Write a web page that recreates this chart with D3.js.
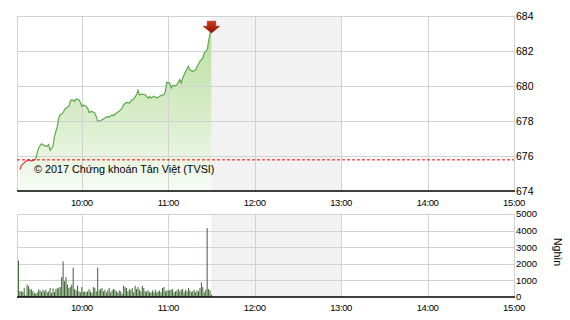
<!DOCTYPE html>
<html lang="vi">
<head>
<meta charset="UTF-8">
<title>VN-Index</title>
<script src="https://d3js.org/d3.v7.min.js"></script>
<style>
  body { margin: 0; background: #fff; }
  svg { display: block; font-family: "Liberation Sans", Arial, sans-serif; }
  .grid { stroke: #d2d2d2; stroke-width: 1; shape-rendering: crispEdges; }
  .tick-text { font-size: 10px; fill: #000; }
  .time-text { font-size: 9.5px; fill: #000; letter-spacing: -0.4px; }
</style>
</head>
<body>
<svg width="570" height="320"></svg>
<script>
// price line (intraday index)
var priceTimes = ["9:17","9:18","9:21","9:23","9:25","9:28","9:29","9:30","9:32","9:34","9:36","9:37","9:38","9:40","9:41","9:42","9:43","9:44","9:45","9:47","9:48","9:49","9:51","9:52","9:53","9:54","9:55","9:56","9:58","9:59","10:00","10:01","10:03","10:04","10:05","10:07","10:09","10:10","10:11","10:13","10:15","10:16","10:18","10:19","10:21","10:22","10:24","10:26","10:28","10:29","10:31","10:33","10:35","10:36","10:38","10:39","10:40","10:42","10:44","10:46","10:47","10:48","10:50","10:52","10:54","10:55","10:57","10:58","10:59","11:01","11:02","11:03","11:05","11:06","11:08","11:09","11:10","11:11","11:12","11:14","11:15","11:17","11:19","11:20","11:22","11:24","11:25","11:27","11:28","11:29","11:30"];
var priceValues = [675.22,675.45,675.69,675.79,675.71,675.83,676.17,676.46,676.70,676.59,676.55,676.65,676.32,676.55,677.12,677.41,677.69,678.17,678.36,678.46,678.65,678.74,678.83,679.12,679.22,679.18,679.12,679.26,679.22,679.06,678.83,678.91,678.83,678.74,678.49,678.55,678.46,678.26,677.98,678.03,678.11,678.17,678.26,678.21,678.36,678.30,678.46,678.55,678.74,678.93,679.06,679.03,679.22,679.26,679.50,679.75,679.50,679.54,679.50,679.31,679.41,679.31,679.41,679.31,679.41,679.45,679.50,679.69,680.21,680.17,679.88,680.02,680.02,680.07,680.36,680.17,680.45,680.64,680.83,681.12,680.93,680.83,680.93,681.12,681.41,681.60,681.88,682.07,682.55,683.03,683.12];
var refValue = 675.78;

// volume, one bar per minute from 9:16
var volStart = "9:16";
var volValues = [2200,350,350,300,550,100,750,650,480,450,350,250,200,280,450,400,300,440,340,440,280,340,540,240,520,300,480,520,560,600,1200,2150,950,1200,750,540,600,750,1770,480,400,680,340,280,600,300,340,280,340,480,340,250,600,540,340,1770,400,480,540,340,440,280,400,540,280,400,480,440,340,280,400,340,200,680,600,540,340,480,400,540,280,680,480,600,440,340,680,540,340,340,400,280,280,400,280,440,280,340,400,280,540,600,340,400,400,400,440,480,280,340,400,480,340,440,480,280,440,340,540,400,300,340,440,280,400,340,540,885,600,280,440,4150,480,400,140];

var priceTicks = [674,676,678,680,682,684];
var volTicks = [0,1000,2000,3000,4000,5000];
var timeTicks = ["10:00","11:00","12:00","13:00","14:00","15:00"];
var session = {start: "9:15", end: "15:00", breakStart: "11:30", breakEnd: "13:00"};
var copyright = "\u00a9 2017 Ch\u1ee9ng kho\u00e1n T\u00e2n Vi\u1ec7t (TVSI)";
var volUnit = "Ngh\u00ecn";

var parse = d3.timeParse("%H:%M");
var svg = d3.select("svg");
var left = 17, right = 514;

var x = d3.scaleTime().domain([parse(session.start), parse(session.end)]).range([left, right]);
var y = d3.scaleLinear().domain([674, 684]).range([191, 16]);
var yv = d3.scaleLinear().domain([0, 5000]).range([297, 214]);

var priceData = d3.zip(priceTimes, priceValues).map(function(d) { return {t: parse(d[0]), v: d[1]}; });
var t0 = parse(volStart);
var volData = volValues.map(function(v, i) { return {t: d3.timeMinute.offset(t0, i), v: v}; });

var defs = svg.append("defs");
var ag = defs.append("linearGradient").attr("id", "areaGrad")
    .attr("gradientUnits", "userSpaceOnUse").attr("x1", 0).attr("x2", 0).attr("y1", 30).attr("y2", 191);
ag.append("stop").attr("offset", 0).attr("stop-color", "#badf9f");
ag.append("stop").attr("offset", 0.6).attr("stop-color", "#dcefcf");
ag.append("stop").attr("offset", 1).attr("stop-color", "#f8fbf5");

var yr = y(refValue);
var lg = defs.append("linearGradient").attr("id", "lineGrad")
    .attr("gradientUnits", "userSpaceOnUse").attr("x1", 0).attr("x2", 0).attr("y1", 16).attr("y2", 191);
var split = (yr - 16) / 175;
lg.append("stop").attr("offset", split).attr("stop-color", "#5caa4a");
lg.append("stop").attr("offset", split).attr("stop-color", "#e8383a");

var arrowGrad = defs.append("linearGradient").attr("id", "arrowGrad")
    .attr("x1", 0).attr("x2", 0).attr("y1", 0).attr("y2", 1);
arrowGrad.append("stop").attr("offset", 0).attr("stop-color", "#d43a16");
arrowGrad.append("stop").attr("offset", 1).attr("stop-color", "#8a1206");

function panel(top, bottom) {
    // lunch break shading
    svg.append("rect")
        .attr("x", x(parse(session.breakStart)))
        .attr("y", top)
        .attr("width", x(parse(session.breakEnd)) - x(parse(session.breakStart)))
        .attr("height", bottom - top)
        .attr("fill", "#f2f2f2");
}

function gridlines(yScale, ticks, top, bottom) {
    ticks.slice(1).forEach(function(v) {
        svg.append("line").attr("class", "grid")
            .attr("x1", left).attr("x2", right)
            .attr("y1", Math.round(yScale(v)) + 0.5).attr("y2", Math.round(yScale(v)) + 0.5);
    });
    timeTicks.forEach(function(t) {
        var xx = Math.round(x(parse(t))) + 0.5;
        svg.append("line").attr("class", "grid")
            .attr("x1", xx).attr("x2", xx).attr("y1", top).attr("y2", bottom);
    });
    svg.append("line").attr("class", "grid")
        .attr("x1", left + 0.5).attr("x2", left + 0.5).attr("y1", top).attr("y2", bottom);
}

function baseline(bottom) {
    svg.append("line")
        .attr("x1", left).attr("x2", right + 1)
        .attr("y1", bottom).attr("y2", bottom)
        .attr("stroke", "#000").attr("stroke-width", 1.5);
}

function labels(yScale, ticks, labelY, size) {
    ticks.forEach(function(v) {
        svg.append("text").attr("class", "tick-text")
            .attr("x", right + 2).attr("y", yScale(v)).attr("dy", "0.35em")
            .style("font-size", size)
            .text(v);
    });
    timeTicks.forEach(function(t) {
        svg.append("text").attr("class", "time-text")
            .attr("x", x(parse(t))).attr("y", labelY)
            .attr("text-anchor", "middle")
            .text(t);
    });
}

// ---- price panel ----
panel(16, 191);

var area = d3.area()
    .x(function(d) { return x(d.t); })
    .y0(y(674))
    .y1(function(d) { return y(d.v); });
svg.append("path").datum(priceData).attr("d", area).attr("fill", "url(#areaGrad)");

gridlines(y, priceTicks, 16, 191);
baseline(191);

var line = d3.line()
    .x(function(d) { return x(d.t); })
    .y(function(d) { return y(d.v); });
svg.append("path").datum(priceData).attr("d", line)
    .attr("fill", "none").attr("stroke", "url(#lineGrad)").attr("stroke-width", 1.2);

svg.append("line")
    .attr("x1", left).attr("x2", right)
    .attr("y1", yr).attr("y2", yr)
    .attr("stroke", "#ff0000").attr("stroke-width", 1).attr("stroke-dasharray", "3,2");

svg.append("text")
    .attr("x", 34).attr("y", 173)
    .attr("font-size", "10.8px").attr("fill", "#000")
    .text(copyright);

// arrow marker on the last point
var last = priceData[priceData.length - 1];
var tx = x(last.t), ty = y(last.v) + 1.5;
svg.append("path")
    .attr("d", "M" + (tx - 4.2) + "," + (ty - 11.7) + "H" + (tx + 4.2) + "V" + (ty - 6.7) +
        "H" + (tx + 8.3) + "L" + tx + "," + ty + "L" + (tx - 8.3) + "," + (ty - 6.7) +
        "H" + (tx - 4.2) + "Z")
    .attr("fill", "url(#arrowGrad)").attr("stroke", "#7a1004").attr("stroke-width", 0.5);

labels(y, priceTicks, 206, "10.5px");

// ---- volume panel ----
panel(214, 297);
gridlines(yv, volTicks, 214, 297);

svg.selectAll(".vol").data(volData).enter().append("rect")
    .attr("class", "vol")
    .attr("x", function(d) { return x(d.t) - 0.5; })
    .attr("y", function(d) { return yv(d.v); })
    .attr("width", 1)
    .attr("height", function(d) { return yv(0) - yv(d.v); })
    .attr("fill", "#3d6633");

baseline(297);
labels(yv, volTicks, 311, "9.5px");

svg.append("text")
    .attr("transform", "translate(554,252) rotate(90)")
    .attr("text-anchor", "middle")
    .attr("font-size", "10.5px")
    .text(volUnit);
</script>
</body>
</html>
